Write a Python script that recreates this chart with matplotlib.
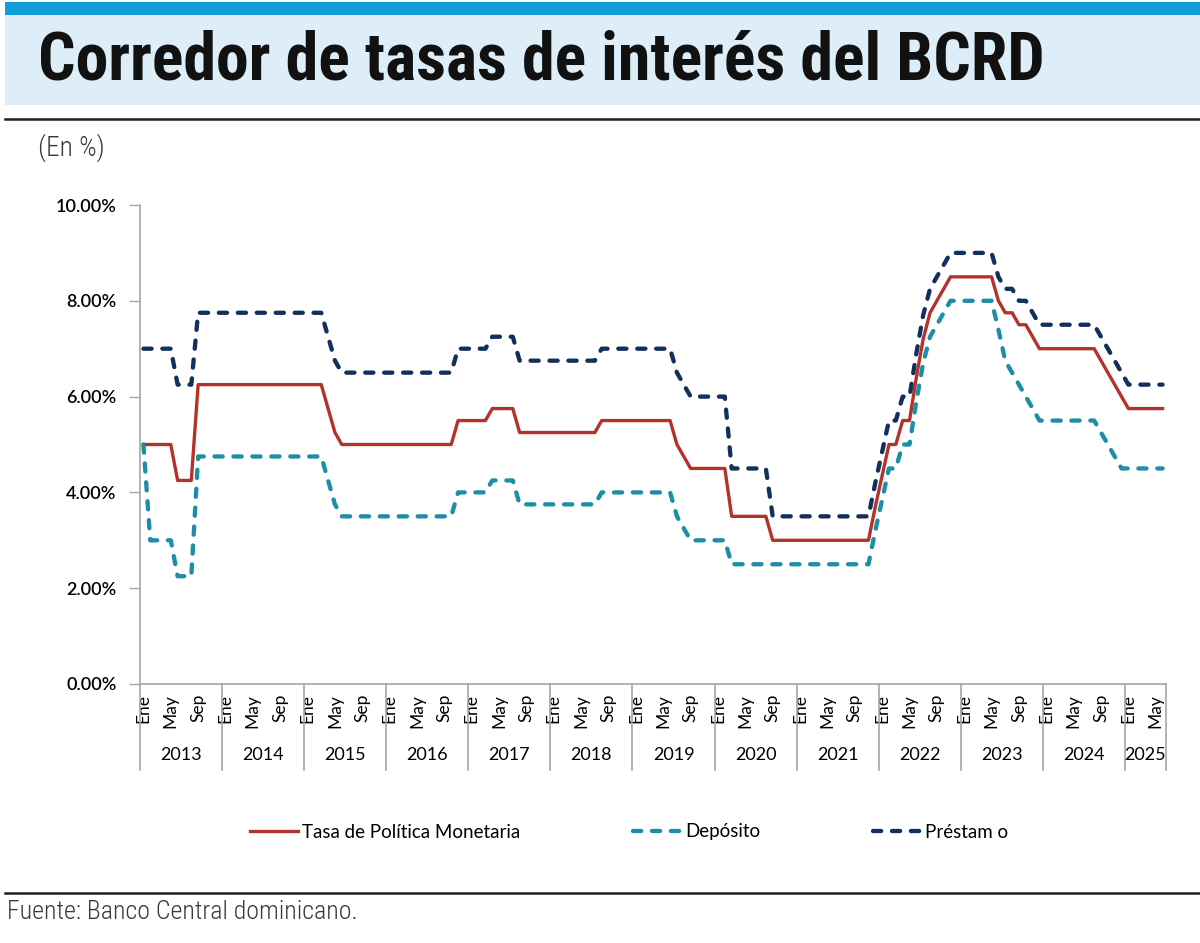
import matplotlib
matplotlib.use('Agg')
import matplotlib.pyplot as plt
from matplotlib import font_manager as fm
from matplotlib.patches import Rectangle
from matplotlib.lines import Line2D

# data: monthly values, Jan 2013 .. Jun 2025 (one row per year)
years = [2013, 2014, 2015, 2016, 2017, 2018, 2019, 2020, 2021, 2022, 2023, 2024, 2025]
month_names = ['Ene', 'Feb', 'Mar', 'Abr', 'May', 'Jun', 'Jul', 'Ago', 'Sep', 'Oct', 'Nov', 'Dic']
months_last_year = 6
label_months = ['Ene', 'May', 'Sep']

tpm = [
    5.00, 5.00, 5.00, 5.00, 5.00, 4.25, 4.25, 4.25, 6.25, 6.25, 6.25, 6.25,
    6.25, 6.25, 6.25, 6.25, 6.25, 6.25, 6.25, 6.25, 6.25, 6.25, 6.25, 6.25,
    6.25, 6.25, 6.25, 5.75, 5.25, 5.00, 5.00, 5.00, 5.00, 5.00, 5.00, 5.00,
    5.00, 5.00, 5.00, 5.00, 5.00, 5.00, 5.00, 5.00, 5.00, 5.00, 5.50, 5.50,
    5.50, 5.50, 5.50, 5.75, 5.75, 5.75, 5.75, 5.25, 5.25, 5.25, 5.25, 5.25,
    5.25, 5.25, 5.25, 5.25, 5.25, 5.25, 5.25, 5.50, 5.50, 5.50, 5.50, 5.50,
    5.50, 5.50, 5.50, 5.50, 5.50, 5.50, 5.00, 4.75, 4.50, 4.50, 4.50, 4.50,
    4.50, 4.50, 3.50, 3.50, 3.50, 3.50, 3.50, 3.50, 3.00, 3.00, 3.00, 3.00,
    3.00, 3.00, 3.00, 3.00, 3.00, 3.00, 3.00, 3.00, 3.00, 3.00, 3.00, 3.70,
    4.35, 5.00, 5.00, 5.50, 5.50, 6.40, 7.20, 7.75, 8.00, 8.25, 8.50, 8.50,
    8.50, 8.50, 8.50, 8.50, 8.50, 8.00, 7.75, 7.75, 7.50, 7.50, 7.25, 7.00,
    7.00, 7.00, 7.00, 7.00, 7.00, 7.00, 7.00, 7.00, 6.75, 6.50, 6.25, 6.00,
    5.75, 5.75, 5.75, 5.75, 5.75, 5.75,
]

deposito = [
    5.00, 3.00, 3.00, 3.00, 3.00, 2.25, 2.25, 2.25, 4.75, 4.75, 4.75, 4.75,
    4.75, 4.75, 4.75, 4.75, 4.75, 4.75, 4.75, 4.75, 4.75, 4.75, 4.75, 4.75,
    4.75, 4.75, 4.75, 4.25, 3.75, 3.50, 3.50, 3.50, 3.50, 3.50, 3.50, 3.50,
    3.50, 3.50, 3.50, 3.50, 3.50, 3.50, 3.50, 3.50, 3.50, 3.50, 4.00, 4.00,
    4.00, 4.00, 4.00, 4.25, 4.25, 4.25, 4.25, 3.75, 3.75, 3.75, 3.75, 3.75,
    3.75, 3.75, 3.75, 3.75, 3.75, 3.75, 3.75, 4.00, 4.00, 4.00, 4.00, 4.00,
    4.00, 4.00, 4.00, 4.00, 4.00, 4.00, 3.50, 3.25, 3.00, 3.00, 3.00, 3.00,
    3.00, 3.00, 2.50, 2.50, 2.50, 2.50, 2.50, 2.50, 2.50, 2.50, 2.50, 2.50,
    2.50, 2.50, 2.50, 2.50, 2.50, 2.50, 2.50, 2.50, 2.50, 2.50, 2.50, 3.20,
    3.85, 4.50, 4.50, 5.00, 5.00, 5.90, 6.70, 7.25, 7.50, 7.75, 8.00, 8.00,
    8.00, 8.00, 8.00, 8.00, 8.00, 7.40, 6.75, 6.50, 6.25, 6.00, 5.75, 5.50,
    5.50, 5.50, 5.50, 5.50, 5.50, 5.50, 5.50, 5.50, 5.25, 5.00, 4.75, 4.50,
    4.50, 4.50, 4.50, 4.50, 4.50, 4.50,
]

prestamo = [
    7.00, 7.00, 7.00, 7.00, 7.00, 6.25, 6.25, 6.25, 7.75, 7.75, 7.75, 7.75,
    7.75, 7.75, 7.75, 7.75, 7.75, 7.75, 7.75, 7.75, 7.75, 7.75, 7.75, 7.75,
    7.75, 7.75, 7.75, 7.25, 6.75, 6.50, 6.50, 6.50, 6.50, 6.50, 6.50, 6.50,
    6.50, 6.50, 6.50, 6.50, 6.50, 6.50, 6.50, 6.50, 6.50, 6.50, 7.00, 7.00,
    7.00, 7.00, 7.00, 7.25, 7.25, 7.25, 7.25, 6.75, 6.75, 6.75, 6.75, 6.75,
    6.75, 6.75, 6.75, 6.75, 6.75, 6.75, 6.75, 7.00, 7.00, 7.00, 7.00, 7.00,
    7.00, 7.00, 7.00, 7.00, 7.00, 7.00, 6.50, 6.25, 6.00, 6.00, 6.00, 6.00,
    6.00, 6.00, 4.50, 4.50, 4.50, 4.50, 4.50, 4.50, 3.50, 3.50, 3.50, 3.50,
    3.50, 3.50, 3.50, 3.50, 3.50, 3.50, 3.50, 3.50, 3.50, 3.50, 3.50, 4.20,
    4.85, 5.50, 5.50, 6.00, 6.00, 6.90, 7.70, 8.25, 8.50, 8.75, 9.00, 9.00,
    9.00, 9.00, 9.00, 9.00, 9.00, 8.50, 8.25, 8.25, 8.00, 8.00, 7.75, 7.50,
    7.50, 7.50, 7.50, 7.50, 7.50, 7.50, 7.50, 7.50, 7.25, 7.00, 6.75, 6.50,
    6.25, 6.25, 6.25, 6.25, 6.25, 6.25,
]

series_labels = ['Tasa de Política Monetaria', 'Depósito', 'Préstam o']
y_ticks = [0, 2, 4, 6, 8, 10]

# colors
red = '#B3322C'
teal = '#1C8EA6'
navy = '#11305C'
gray = '#A6A6A6'

# fonts
names = {f.name for f in fm.fontManager.ttflist}
def pick(options, default='DejaVu Sans'):
    for o in options:
        if o in names:
            return o
    return default

label_font = pick(['Lato', 'Open Sans', 'Noto Sans'])
title_font = pick(['Roboto Condensed', 'Liberation Sans Narrow', 'Roboto'])
light_font = pick(['Roboto Condensed', 'Liberation Sans Narrow', 'Roboto'])

W, H = 1200, 943
fig = plt.figure(figsize=(W / 100, H / 100), dpi=100)

def fx(px):
    return px / W

def fy(py):
    return 1 - py / H

# header boxes and rules
fig.add_artist(Rectangle((fx(5), fy(105)), fx(1195), 90 / H, transform=fig.transFigure,
                         color='#DDEEF9', lw=0))
fig.add_artist(Rectangle((fx(5), fy(15)), fx(1195), 13 / H, transform=fig.transFigure,
                         color='#129DD9', lw=0))
fig.add_artist(Line2D([fx(5), 1], [fy(119), fy(119)], transform=fig.transFigure,
                      color='#1E1E1E', lw=1.8))
fig.add_artist(Line2D([fx(5), 1], [fy(893), fy(893)], transform=fig.transFigure,
                      color='#1E1E1E', lw=1.8))

title = fig.text(fx(38), fy(79), 'Corredor de tasas de interés del BCRD',
                 fontsize=40, fontweight='black', family=title_font,
                 color='#111111', va='baseline', ha='left')
en = fig.text(fx(38), fy(148), '(En %)', fontsize=17, fontweight='light',
              family=light_font, color='#3A3A3A', va='center', ha='left')
src = fig.text(fx(7), fy(912), 'Fuente: Banco Central dominicano.', fontsize=17,
               fontweight='light', family=light_font, color='#3A3A3A',
               va='center', ha='left')

# chart
ax = fig.add_axes([fx(140), fy(684), (1166 - 140) / W, (684 - 205) / H])

cats = []
for y in years:
    n = months_last_year if y == years[-1] else 12
    for m in month_names[:n]:
        cats.append((y, m))
x = list(range(len(cats)))

dash = (0, (1.9, 2.5))
ax.plot(x, tpm, color=red, lw=2.4, label=series_labels[0], zorder=3)
ax.plot(x, deposito, color=teal, lw=3.1, linestyle=dash,
        dash_capstyle='round', label=series_labels[1], zorder=3)
ax.plot(x, prestamo, color=navy, lw=3.1, linestyle=dash,
        dash_capstyle='round', label=series_labels[2], zorder=4)

ax.set_xlim(-0.5, len(cats) - 0.5)
ax.set_ylim(0, 10)
ax.set_yticks(y_ticks)
ax.set_yticklabels([f'{v:.2f}%' for v in y_ticks], family=label_font, fontsize=13,
                   fontweight='semibold')
ax.tick_params(axis='y', direction='out', length=8, width=1, color=gray, pad=9)

tick_pos = [i for i, (yy, m) in enumerate(cats) if m in label_months]
ax.set_xticks(tick_pos)
ax.set_xticklabels([cats[i][1] for i in tick_pos], rotation=90, family=label_font,
                   fontsize=12.5, va='top')
ax.tick_params(axis='x', length=0, pad=7)

for s in ['top', 'right']:
    ax.spines[s].set_visible(False)
for s in ['left', 'bottom']:
    ax.spines[s].set_color(gray)
    ax.spines[s].set_linewidth(1.2)

# year separators and labels
trans = ax.get_xaxis_transform()
sep_depth = (770 - 684) / (684 - 205)
year_lab_y = -(755 - 684) / (684 - 205)
for y in years:
    idx = [i for i, c in enumerate(cats) if c[0] == y]
    ax.plot([idx[0] - 0.5] * 2, [0, -sep_depth], transform=trans, color=gray, lw=1.2,
            clip_on=False)
    ax.text((idx[0] + idx[-1]) / 2, year_lab_y, str(y), transform=trans, ha='center',
            va='center', family=label_font, fontsize=13)
ax.plot([len(cats) - 0.5] * 2, [0, -sep_depth], transform=trans, color=gray, lw=1.2,
        clip_on=False)

# legend
h, l = ax.get_legend_handles_labels()
fig.legend(h, l, loc='center', bbox_to_anchor=(fx(629), fy(832)), ncol=3,
           frameon=False, prop={'family': label_font, 'size': 13.5},
           handlelength=2.6, handletextpad=0.2, columnspacing=6.0)

# fit header/footer text widths to the reference
fig.canvas.draw()
r = fig.canvas.get_renderer()
for t, target in [(title, 1007), (en, 67), (src, 351)]:
    w = t.get_window_extent(r).width
    t.set_fontsize(t.get_fontsize() * target / w)

plt.savefig('out.png', dpi=100)
